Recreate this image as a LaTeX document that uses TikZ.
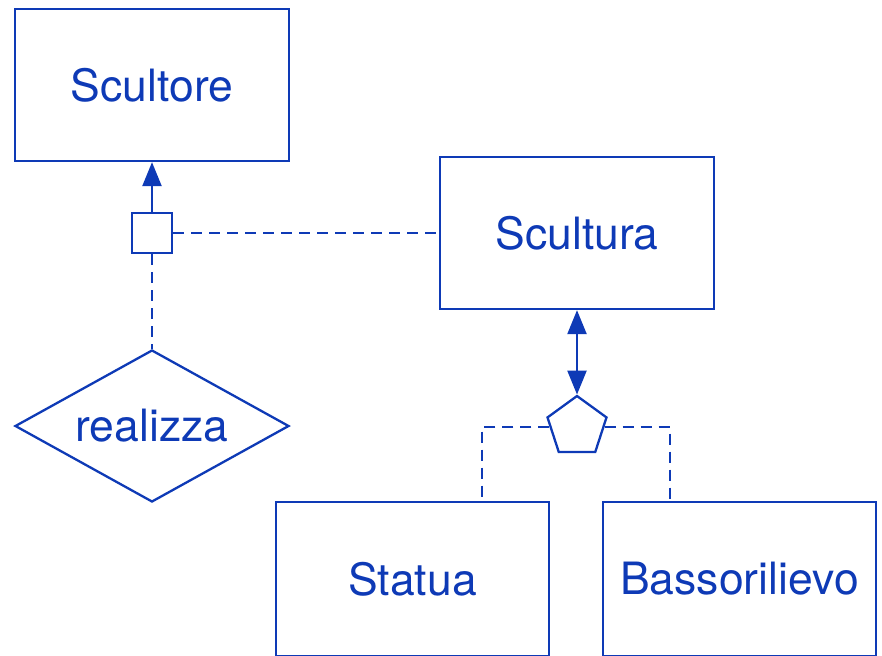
\documentclass[tikz,border=0pt]{standalone}
\usepackage{fontspec}
\setmainfont{TeX Gyre Heros}
\usetikzlibrary{shapes.geometric,arrows.meta}
\definecolor{erblue}{RGB}{14,58,182}
\tikzset{
  ent/.style={draw=erblue, line width=2.3pt, rectangle, minimum width=274pt, minimum height=152pt, inner sep=0pt, text=erblue, font=\fontsize{44.5pt}{50pt}\selectfont},
  rel/.style={draw=erblue, line width=2.3pt, diamond, aspect=1.8, minimum width=274pt, minimum height=152pt, inner sep=0pt, text=erblue, font=\fontsize{44.5pt}{50pt}\selectfont},
  sq/.style={draw=erblue, line width=2.3pt, rectangle, minimum size=40pt, inner sep=0pt},
  pent/.style={draw=erblue, line width=2.3pt, regular polygon, regular polygon sides=5, minimum size=62pt, inner sep=0pt},
  conn/.style={draw=erblue, line width=2.3pt},
  dconn/.style={draw=erblue, line width=2.3pt, dash pattern=on 11pt off 7pt},
  tip/.style={-{Triangle[length=24pt,width=19pt]}},
  dtip/.style={{Triangle[length=24pt,width=19pt]}-{Triangle[length=24pt,width=19pt]}}
}
\begin{document}
\begin{tikzpicture}[x=1pt,y=-1pt]
\useasboundingbox (0,0) rectangle (882,655);
\clip (0,0) rectangle (882,655);
\node[ent] (scultore) at (152,85) {Scultore};
\node[ent] (scultura) at (577,233) {Scultura};
\node[sq] (sqr) at (152,233) {};
\node[rel] (realizza) at (152,426) {realizza};
\node[pent] (gen) at (577,427) {};
\node[ent, minimum width=273pt, minimum height=154pt] (statua) at (412.5,579) {Statua};
\node[ent, minimum width=273pt, minimum height=154pt] (basso) at (739.5,579) {Bassorilievo};
\draw[conn, tip] (sqr.north) -- (scultore.south);
\draw[dconn] (sqr.east) -- (scultura.west);
\draw[dconn] (sqr.south) -- (realizza.north);
\draw[conn, dtip] (scultura.south) -- (gen.north);
\draw[dconn] (gen.west) -| ([xshift=69.5pt]statua.north);
\draw[dconn] (gen.east) -| ([xshift=-69.5pt]basso.north);
\end{tikzpicture}
\end{document}
